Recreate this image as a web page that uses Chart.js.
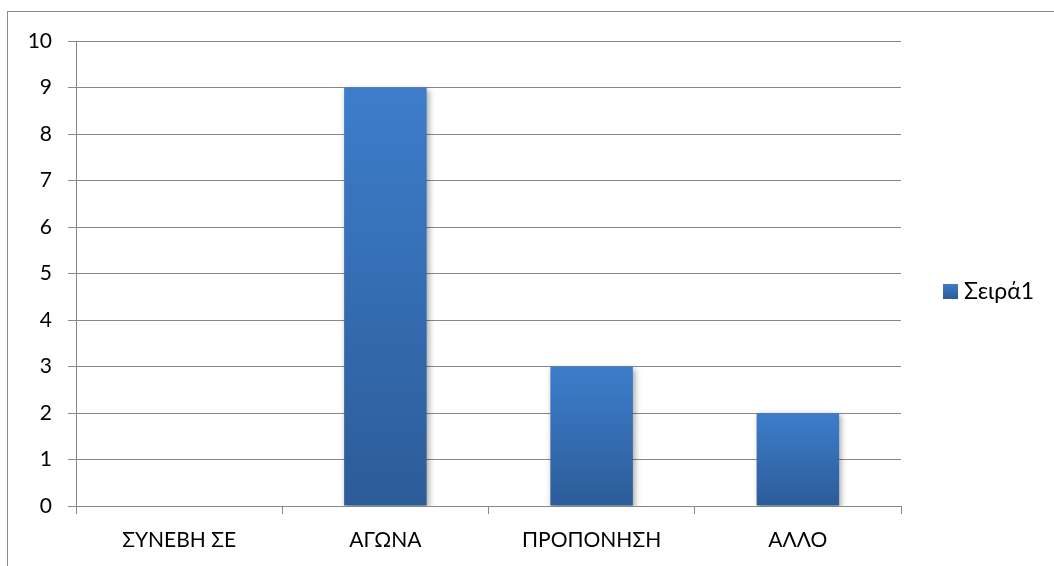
<!DOCTYPE html>
<html>
<head>
<meta charset="utf-8">
<script src="https://cdn.jsdelivr.net/npm/chart.js@4"></script>
<style>
  html, body { margin: 0; padding: 0; background: #ffffff; }
  #wrap { position: relative; width: 1054px; height: 566px; }
</style>
</head>
<body>
<div id="wrap"><canvas id="c" width="1054" height="566"></canvas></div>
<script>
// Chart content
const categories = ['ΣΥΝΕΒΗ ΣΕ', 'ΑΓΩΝΑ', 'ΠΡΟΠΟΝΗΣΗ', 'ΑΛΛΟ'];
const seriesName = 'Σειρά1';
const seriesValues = [0, 9, 3, 2];
const yTicks = [0, 1, 2, 3, 4, 5, 6, 7, 8, 9, 10];

const FONT = 'Lato, "Open Sans", sans-serif';
const FONT_SIZE = 21;
const LEGEND_FONT_SIZE = 23;
const GRID = '#888888';
const BAR_TOP = '#3d7dcb';
const BAR_BOTTOM = '#2c5c98';

// Vertical gradient per bar, from its top down to the baseline
function barFill(ctx) {
  const chart = ctx.chart;
  const area = chart.chartArea;
  if (!area || ctx.raw === undefined) return BAR_TOP;
  const y = chart.scales.y;
  const top = y.getPixelForValue(ctx.raw);
  const base = y.getPixelForValue(0);
  if (base - top < 1) return BAR_TOP;
  const g = chart.ctx.createLinearGradient(0, top, 0, base);
  g.addColorStop(0, BAR_TOP);
  g.addColorStop(1, BAR_BOTTOM);
  return g;
}

// Outer frame of the chart
const framePlugin = {
  id: 'frame',
  beforeDraw(chart) {
    const c = chart.ctx;
    c.save();
    c.strokeStyle = '#8c8c8c';
    c.lineWidth = 1;
    c.strokeRect(7.5, 11.5, 2000, 2000);
    c.restore();
  }
};

// Soft shadow under the bars
const shadowPlugin = {
  id: 'barShadow',
  beforeDatasetDraw(chart) {
    const c = chart.ctx;
    c.save();
    c.shadowColor = 'rgba(0,0,0,0.35)';
    c.shadowBlur = 6;
    c.shadowOffsetX = 2;
    c.shadowOffsetY = 2;
  },
  afterDatasetDraw(chart) {
    chart.ctx.restore();
  }
};

// Legend on the right, a little below the plot's middle
const legendPlugin = {
  id: 'sideLegend',
  afterDraw(chart) {
    const c = chart.ctx;
    const area = chart.chartArea;
    const ds = chart.data.datasets[0];
    const cy = (area.top + area.bottom) / 2 + 18;
    const x = area.right + 42;
    const box = 15;
    c.save();
    const g = c.createLinearGradient(0, cy - box / 2, 0, cy + box / 2);
    g.addColorStop(0, BAR_TOP);
    g.addColorStop(1, BAR_BOTTOM);
    c.fillStyle = g;
    c.fillRect(x, cy - box / 2, box, box);
    c.fillStyle = '#000000';
    c.font = LEGEND_FONT_SIZE + 'px ' + FONT;
    c.textBaseline = 'middle';
    c.textAlign = 'left';
    c.fillText(ds.label, x + box + 6, cy);
    c.restore();
  }
};

new Chart(document.getElementById('c'), {
  type: 'bar',
  data: {
    labels: categories,
    datasets: [{
      label: seriesName,
      data: seriesValues,
      backgroundColor: barFill,
      borderWidth: 0,
      barPercentage: 0.4,
      categoryPercentage: 1.0
    }]
  },
  options: {
    responsive: false,
    animation: false,
    devicePixelRatio: 1,
    layout: { padding: { top: 41, right: 153, left: 0, bottom: 0 } },
    plugins: {
      legend: { display: false },
      tooltip: { enabled: false }
    },
    scales: {
      x: {
        afterFit(s) { s.height = 60; },
        grid: {
          display: true,
          offset: true,
          drawOnChartArea: false,
          drawTicks: true,
          tickLength: 8,
          color: GRID,
          lineWidth: 1
        },
        border: { display: true, color: GRID, width: 1 },
        ticks: {
          color: '#000000',
          font: { family: FONT, size: FONT_SIZE },
          padding: 14,
          maxRotation: 0
        }
      },
      y: {
        min: 0,
        max: 10,
        afterFit(s) { s.width = 76; },
        afterBuildTicks(s) { s.ticks = yTicks.map(v => ({ value: v })); },
        grid: {
          display: true,
          drawTicks: true,
          tickLength: 8,
          color: GRID,
          lineWidth: 1
        },
        border: { display: true, color: GRID, width: 1 },
        ticks: {
          color: '#000000',
          font: { family: FONT, size: FONT_SIZE },
          padding: 16,
          stepSize: 1
        }
      }
    }
  },
  plugins: [framePlugin, shadowPlugin, legendPlugin]
});
</script>
</body>
</html>
